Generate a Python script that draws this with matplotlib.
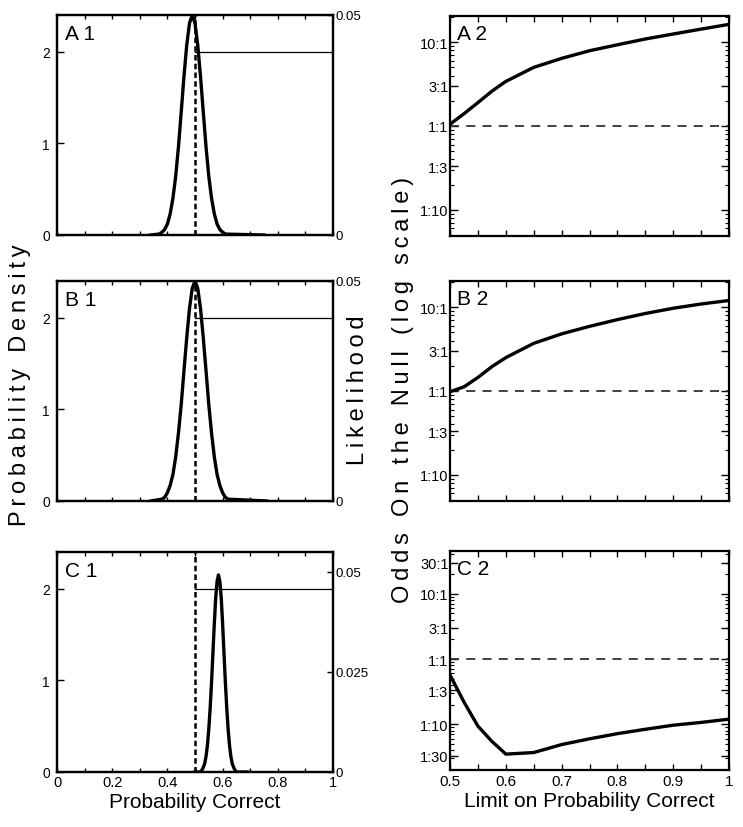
import matplotlib
matplotlib.use('Agg')
import matplotlib.pyplot as plt
from matplotlib.ticker import FixedLocator, FixedFormatter, MultipleLocator, NullFormatter, LogLocator

plt.rcParams['font.family'] = ['Liberation Sans', 'DejaVu Sans']

# ── Data ──────────────────────────────────────────────────────────────────
# left column: likelihood curves (drawn in density units, 0 .. 2.4)
a1_x = [0.34, 0.37, 0.38, 0.39, 0.40, 0.41, 0.42, 0.43, 0.44, 0.45, 0.46, 0.47, 0.48,
        0.49, 0.50, 0.51, 0.52, 0.53, 0.54, 0.55, 0.56, 0.57, 0.58, 0.59, 0.60, 0.61, 0.75]
a1_y = [0.00, 0.01, 0.03, 0.06, 0.12, 0.23, 0.40, 0.64, 0.96, 1.34, 1.73, 2.07, 2.31,
        2.40, 2.31, 2.07, 1.73, 1.34, 0.96, 0.64, 0.40, 0.23, 0.12, 0.06, 0.03, 0.01, 0.00]

b1_x = [0.34, 0.38, 0.39, 0.40, 0.41, 0.42, 0.43, 0.44, 0.45, 0.46, 0.47, 0.48, 0.49,
        0.50, 0.51, 0.52, 0.53, 0.54, 0.55, 0.56, 0.57, 0.58, 0.59, 0.60, 0.61, 0.62, 0.76]
b1_y = [0.00, 0.02, 0.04, 0.09, 0.17, 0.29, 0.48, 0.74, 1.05, 1.42, 1.78, 2.10, 2.32,
        2.40, 2.32, 2.10, 1.78, 1.42, 1.05, 0.74, 0.48, 0.29, 0.17, 0.09, 0.04, 0.02, 0.00]

c1_x = [0.500, 0.520, 0.525, 0.530, 0.535, 0.540, 0.545, 0.550, 0.555, 0.560, 0.565,
        0.570, 0.575, 0.580, 0.585, 0.590, 0.595, 0.600, 0.605, 0.610, 0.615, 0.620,
        0.625, 0.630, 0.635, 0.640, 0.645, 0.650, 0.690]
c1_y = [0.00, 0.00, 0.02, 0.05, 0.09, 0.17, 0.29, 0.47, 0.70, 0.98, 1.30,
        1.62, 1.90, 2.08, 2.15, 2.08, 1.90, 1.62, 1.30, 0.98, 0.70, 0.47,
        0.29, 0.17, 0.09, 0.05, 0.02, 0.00, 0.00]

# uniform prior on [0.5, 1] and the null value
prior_x = [0.5, 1.0]
prior_y = [2.0, 2.0]
null_p = 0.5

# right column: odds on the null vs. upper limit of the prior
limit_x = [0.50, 0.525, 0.55, 0.575, 0.60, 0.65, 0.70, 0.75, 0.80, 0.85, 0.90, 0.95, 1.00]
a2_odds = [1.05, 1.4, 1.9, 2.6, 3.4, 5.0, 6.4, 7.9, 9.3, 10.9, 12.5, 14.3, 16.3]
b2_odds = [0.98, 1.12, 1.45, 1.95, 2.5, 3.7, 4.8, 5.9, 7.1, 8.4, 9.7, 10.9, 12.0]
c2_odds = [0.57, 0.22, 0.094, 0.055, 0.035, 0.037, 0.049, 0.060, 0.072, 0.084, 0.097, 0.107, 0.12]

odds_ticks = [1 / 30, 1 / 10, 1 / 3, 1, 3, 10, 30]
odds_labels = ['1:30', '1:10', '1:3', '1:1', '3:1', '10:1', '30:1']

# ── Layout (pixel boxes: left, top, right, bottom) ────────────────────────
W, H = 743, 828
fig = plt.figure(figsize=(W / 100, H / 100), dpi=100)
fig.patch.set_facecolor('white')


def add_ax(l, t, r, b):
    return fig.add_axes([l / W, 1 - b / H, (r - l) / W, (b - t) / H])


def spaced(s):
    # letter-spaced look of the original axis titles
    return '\u2009'.join(s)


LEFT_BOXES = [(57, 16, 333, 236), (57, 282, 333, 502), (57, 553, 333, 773)]
RIGHT_BOXES = [(450, 17, 729, 237), (450, 282, 729, 502), (450, 552, 729, 771)]

left_data = [(a1_x, a1_y, 'A 1'), (b1_x, b1_y, 'B 1'), (c1_x, c1_y, 'C 1')]
right_data = [(a2_odds, 'A 2'), (b2_odds, 'B 2'), (c2_odds, 'C 2')]

SPINE_LW = 1.6
CURVE_LW = 2.4

# ── Left column ───────────────────────────────────────────────────────────
for i, (box, (cx, cy, tag)) in enumerate(zip(LEFT_BOXES, left_data)):
    ax = add_ax(*box)
    ax.plot(prior_x, prior_y, color='black', lw=0.9, zorder=2)
    ax.axvline(null_p, color='black', lw=1.8, dashes=(2.2, 1.3), zorder=3)
    ax.plot(cx, cy, color='black', lw=CURVE_LW, zorder=4, solid_joinstyle='round')
    ax.set_xlim(0, 1)
    ax.set_ylim(0, 2.4)
    ax.set_yticks([0, 1, 2])
    ax.set_yticklabels(['0', '1', '2'])
    ax.xaxis.set_major_locator(MultipleLocator(0.2))
    ax.xaxis.set_minor_locator(MultipleLocator(0.1))
    ax.tick_params(axis='y', direction='in', length=5, width=1, labelsize=10, pad=5, right=False)
    ax.tick_params(axis='x', which='both', direction='in', length=3, width=1,
                   top=True, labelsize=10.5, pad=2)
    if i < 2:
        ax.xaxis.set_major_formatter(NullFormatter())
    else:
        ax.xaxis.set_major_formatter(FixedFormatter(['0', '0.2', '0.4', '0.6', '0.8', '1']))
        ax.xaxis.set_major_locator(FixedLocator([0, 0.2, 0.4, 0.6, 0.8, 1.0]))
        ax.set_xlabel('Probability Correct', fontsize=15, labelpad=2)
    for sp in ax.spines.values():
        sp.set_linewidth(SPINE_LW)
    ax.text(0.03, 0.915, tag, transform=ax.transAxes, fontsize=15, ha='left', va='center')

    rax = ax.twinx()
    if i < 2:
        rax.set_ylim(0, 0.05)
        rax.yaxis.set_major_locator(FixedLocator([0, 0.05]))
        rax.yaxis.set_major_formatter(FixedFormatter(['0', '0.05']))
    else:
        rax.set_ylim(0, 0.055)
        rax.yaxis.set_major_locator(FixedLocator([0, 0.025, 0.05]))
        rax.yaxis.set_major_formatter(FixedFormatter(['0', '0.025', '0.05']))
    rax.tick_params(axis='y', direction='in', length=4, width=1, labelsize=9.5, pad=2)
    for sp in rax.spines.values():
        sp.set_linewidth(SPINE_LW)

# ── Right column ──────────────────────────────────────────────────────────
for i, (box, (odds, tag)) in enumerate(zip(RIGHT_BOXES, right_data)):
    ax = add_ax(*box)
    ax.set_yscale('log')
    ax.axhline(1, color='#333333', lw=1.3, dashes=(5, 4), zorder=2)
    ax.plot(limit_x, odds, color='black', lw=CURVE_LW, zorder=3, solid_joinstyle='round')
    ax.set_xlim(0.5, 1.0)
    if i < 2:
        ax.set_ylim(1 / 20.5, 20.5)
    else:
        ax.set_ylim(1 / 50, 45)
    ax.yaxis.set_major_locator(FixedLocator(odds_ticks))
    ax.yaxis.set_major_formatter(FixedFormatter(odds_labels))
    ax.yaxis.set_minor_locator(LogLocator(base=10, subs=range(2, 10), numticks=20))
    ax.yaxis.set_minor_formatter(NullFormatter())
    ax.xaxis.set_major_locator(MultipleLocator(0.1))
    ax.xaxis.set_minor_locator(MultipleLocator(0.05))
    ax.tick_params(axis='y', which='major', direction='in', length=6, width=1,
                   left=True, right=True, labelsize=10.5, pad=1)
    ax.tick_params(axis='y', which='minor', direction='in', length=3, width=0.8,
                   left=True, right=True)
    ax.tick_params(axis='x', which='both', direction='in', length=4, width=1,
                   top=True, labelsize=11, pad=3)
    if i < 2:
        ax.xaxis.set_major_formatter(NullFormatter())
    else:
        ax.xaxis.set_major_locator(FixedLocator([0.5, 0.6, 0.7, 0.8, 0.9, 1.0]))
        ax.xaxis.set_major_formatter(FixedFormatter(['0.5', '0.6', '0.7', '0.8', '0.9', '1']))
        ax.set_xlabel('Limit on Probability Correct', fontsize=15, labelpad=2)
    for sp in ax.spines.values():
        sp.set_linewidth(SPINE_LW)
    ax.text(0.025, 0.92, tag, transform=ax.transAxes, fontsize=15, ha='left', va='center')

# ── Shared vertical axis titles ───────────────────────────────────────────
fig.text(20 / W, 1 - 385 / H, spaced('Probability Density'), rotation=90,
         fontsize=17, ha='center', va='center')
fig.text(358 / W, 1 - 390 / H, spaced('Likelihood'), rotation=90,
         fontsize=17, ha='center', va='center')
fig.text(403 / W, 1 - 390 / H, spaced('Odds On the Null (log scale)'), rotation=90,
         fontsize=17, ha='center', va='center')

fig.savefig('out.png', dpi=100)
